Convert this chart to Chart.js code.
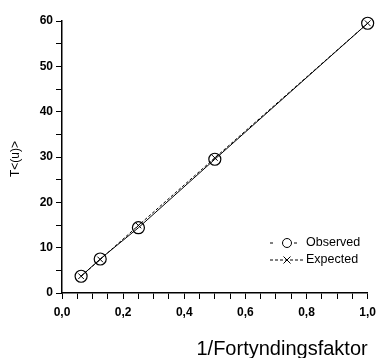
<!DOCTYPE html>
<html>
<head>
<meta charset="utf-8">
<script src="https://cdn.jsdelivr.net/npm/chart.js@4/dist/chart.umd.min.js"></script>
<style>
  html, body { margin: 0; padding: 0; background: #fff; }
  #wrap { width: 382px; height: 358px; }
</style>
</head>
<body>
<div id="wrap"><canvas id="fortChart" width="382" height="358"></canvas></div>
<script>
// --- DATA ---
const dilution = [0.0625, 0.125, 0.25, 0.5, 1.0];   // 1/Fortyndingsfaktor
const observed = [3.7, 7.5, 14.4, 29.5, 59.5];
const expected = [3.7, 7.4, 14.9, 29.8, 59.5];
const xTicks = [0, 0.2, 0.4, 0.6, 0.8, 1.0];
const yTicks = [0, 10, 20, 30, 40, 50, 60];

const FONT = '"Liberation Sans", Arial, sans-serif';

function toPoints(ys) {
    return dilution.map((x, i) => ({ x: x, y: ys[i] }));
}

// --- PLUGIN: axis titles + legend box ---
const decorations = {
    id: 'decorations',
    afterDraw(chart) {
        const ctx = chart.ctx;
        const area = chart.chartArea;
        ctx.save();
        ctx.fillStyle = '#000';

        // x title, right aligned under the axis
        ctx.font = '20px ' + FONT;
        ctx.textAlign = 'right';
        ctx.textBaseline = 'alphabetic';
        ctx.fillText('1/Fortyndingsfaktor', area.right, 355);

        // y title, rotated
        ctx.save();
        ctx.translate(16, 159);
        ctx.rotate(-Math.PI / 2);
        ctx.font = '12px ' + FONT;
        ctx.textAlign = 'center';
        ctx.textBaseline = 'middle';
        ctx.fillText('T<(u)>', 0, 0);
        ctx.restore();

        // legend
        const rows = [
            { label: 'Observed', y: 243, dash: [3, 9], style: 'circle', r: 4.5 },
            { label: 'Expected', y: 260, dash: [3, 2], style: 'cross', r: 3.5 }
        ];
        rows.forEach(row => {
            const cx = 287;
            ctx.strokeStyle = '#000';
            ctx.lineWidth = 1;
            ctx.setLineDash(row.dash);
            ctx.beginPath();
            ctx.moveTo(270, row.y);
            ctx.lineTo(304, row.y);
            ctx.stroke();
            ctx.setLineDash([]);
            ctx.beginPath();
            if (row.style === 'circle') {
                ctx.fillStyle = '#fff';
                ctx.arc(cx, row.y, row.r, 0, Math.PI * 2);
                ctx.fill();
                ctx.stroke();
            } else {
                ctx.moveTo(cx - row.r, row.y - row.r); ctx.lineTo(cx + row.r, row.y + row.r);
                ctx.moveTo(cx - row.r, row.y + row.r); ctx.lineTo(cx + row.r, row.y - row.r);
                ctx.stroke();
            }
            ctx.fillStyle = '#000';
            ctx.font = '12.5px ' + FONT;
            ctx.textAlign = 'left';
            ctx.textBaseline = 'middle';
            ctx.fillText(row.label, 306, row.y);
        });
        ctx.restore();
    }
};

// --- CHART ---
const ctx = document.getElementById('fortChart').getContext('2d');
new Chart(ctx, {
    type: 'line',
    data: {
        datasets: [
            {
                label: 'Expected',
                data: toPoints(expected),
                borderColor: '#000',
                borderWidth: 1,
                borderDash: [3, 2],
                pointStyle: 'crossRot',
                pointRadius: 4,
                pointBorderColor: '#000',
                pointBorderWidth: 1,
                fill: false,
                tension: 0,
                clip: false
            },
            {
                label: 'Observed',
                data: toPoints(observed),
                borderColor: '#000',
                borderWidth: 1,
                pointStyle: 'circle',
                pointRadius: 6,
                pointBackgroundColor: 'rgba(255,255,255,0)',
                pointBorderColor: '#000',
                pointBorderWidth: 1.2,
                fill: false,
                tension: 0,
                clip: false
            }
        ]
    },
    options: {
        responsive: false,
        animation: false,
        events: [],
        layout: { padding: { top: 21, right: 9, left: 0, bottom: 0 } },
        plugins: {
            legend: { display: false },
            tooltip: { enabled: false }
        },
        scales: {
            x: {
                type: 'linear',
                min: 0,
                max: 1,
                afterFit: s => { s.height = 65; },
                afterBuildTicks: s => {
                    const t = [];
                    for (let i = 0; i <= 20; i++) t.push({ value: i / 20 });
                    s.ticks = t;
                },
                ticks: {
                    autoSkip: false,
                    maxRotation: 0,
                    padding: 6,
                    color: '#000',
                    font: { family: FONT, size: 12, weight: 'bold' },
                    callback: v => {
                        const hit = xTicks.find(t => Math.abs(t - v) < 1e-6);
                        return hit === undefined ? '' : hit.toFixed(1).replace('.', ',');
                    }
                },
                grid: { drawOnChartArea: false, drawTicks: true, tickLength: 6, color: '#000', lineWidth: 1 },
                border: { color: '#000', width: 1.5 }
            },
            y: {
                type: 'linear',
                min: 0,
                max: 60,
                afterFit: s => { s.width = 62; },
                afterBuildTicks: s => {
                    const t = [];
                    for (let v = 0; v <= 60; v += 5) t.push({ value: v });
                    s.ticks = t;
                },
                ticks: {
                    autoSkip: false,
                    padding: 3,
                    color: '#000',
                    font: { family: FONT, size: 12, weight: 'bold' },
                    callback: v => yTicks.includes(v) ? String(v) : ''
                },
                grid: { drawOnChartArea: false, drawTicks: true, tickLength: 6, color: '#000', lineWidth: 1 },
                border: { color: '#000', width: 1.5 }
            }
        }
    },
    plugins: [decorations]
});
</script>
</body>
</html>
